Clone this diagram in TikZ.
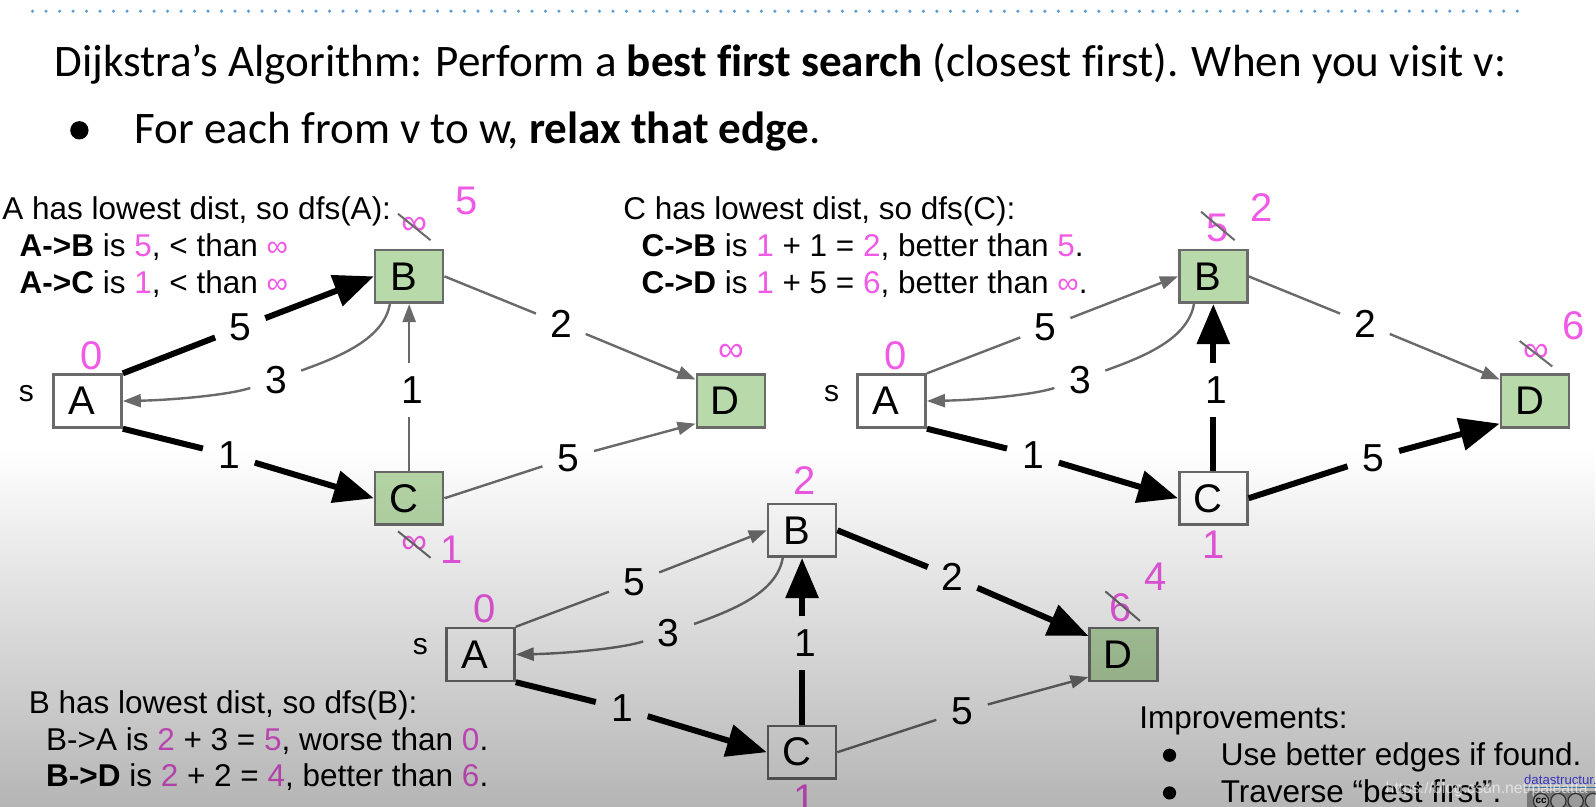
\documentclass[tikz,border=0pt]{standalone}
\usepackage{fontspec}
\setmainfont{Liberation Sans}
\newfontfamily\ttlfont[Ligatures=NoCommon]{Carlito}
\usetikzlibrary{arrows.meta,calc,fadings}
\definecolor{pnk}{HTML}{F05AE6}
\definecolor{grn}{HTML}{B8D9A9}
\definecolor{edgegray}{HTML}{6A6A6A}
\definecolor{dotblue}{HTML}{5B9BD5}
\tikzfading[name=fadedown, top color=transparent!100, bottom color=transparent!71]
\newcommand\fsz[1]{\fontsize{#1}{#1}\selectfont}
\newcommand\pk[1]{\textcolor{pnk}{#1}}
\newcommand\inft{\textcolor{pnk}{\fsz{15}∞}}
\newcommand\boxlet[1]{#1\kern5.5pt}
\tikzset{
  boxnode/.style={draw=edgegray,line width=1.3pt,minimum width=34pt,minimum height=26.4pt,inner sep=0pt,font=\fsz{20}},
  weight/.style={circle,minimum size=26.5pt,inner sep=0pt,font=\fsz{19.5}},
  pinknum/.style={text=pnk,inner sep=0pt,font=\fsz{20}},
  pinksmall/.style={text=pnk,inner sep=0pt,font=\fsz{18}},
  strike/.style={edgegray,line width=1pt},
  slabel/.style={inner sep=0pt,font=\fsz{15}},
  textline/.style={anchor=base west,inner sep=0pt,font=\fsz{15.75}},
  titleline/.style={anchor=base west,inner sep=0pt,font=\ttlfont\fsz{22.55}},
  thinedge/.style={edgegray,line width=1.2pt},
  fatedge/.style={black,line width=3pt},
  thintip/.style={thinedge,-{Triangle[length=9pt,width=6.5pt]}},
  fattip/.style={fatedge,-{Triangle[length=20pt,width=16pt]}},
}
\begin{document}
\begin{tikzpicture}[x=0.509pt,y=-0.509pt]
\useasboundingbox (0,0) rectangle (1568,792.8);
\fill[white] (0,0) rectangle (1568,792.8);
\foreach \i in {0,...,110} \fill[dotblue] (32+\i*13.26,11) circle (1.7);
\node[titleline] (title) at (53,75) {Dijkstra’s Algorithm: Perform a \textbf{best first search} (closest first). When you visit v:};
\fill[black] (78,128) circle (9);
\node[titleline] (sub) at (132,141) {For each from v to w, \textbf{relax that edge}.};

% graph 1
\begin{scope}[shift={(0,0)},name prefix=p-]
  \node[boxnode,fill=white] (A) at (86,394) {\boxlet{A}};
  \node[boxnode,fill=grn] (B) at (402,271.5) {\boxlet{B}};
  \node[boxnode,fill=grn] (C) at (402,489.5) {\boxlet{C}};
  \node[boxnode,fill=grn] (D) at (718,394) {\boxlet{D}};
  \node[weight] (w5) at (236,322) {5};
  \node[weight] (w3) at (271,373) {3};
  \node[weight] (w1v) at (402,383) {\kern3pt 1};
  \node[weight] (w2) at (551,318) {2};
  \node[weight] (w1) at (225,447) {1};
  \node[weight] (w5b) at (558,450) {5};
  \node[slabel] (s) at (26,387) {s};
  \draw[fatedge] (A.north east) -- (w5);
  \draw[fattip] (w5) -- (B.west);
  \draw[fatedge] (A.south east) -- (w1);
  \draw[fattip] (w1) -- (C.west);
  \draw[thinedge] ($(B.south)+(-19,0)$) .. controls +(-6,34) and (335,350) .. (w3);
  \draw[thintip] (w3) .. controls (225,388) and (170,393) .. (A.east);
  \draw[thinedge] (C.north) -- (w1v);
  \draw[thintip] (w1v) -- (B.south);
  \draw[thinedge] (B.east) -- (w2);
  \draw[thintip] (w2) -- ($(D.north west)+(0,6)$);
  \draw[thinedge] (C.east) -- (w5b);
  \draw[thintip] (w5b) -- ($(D.south west)+(0,-5)$);
\end{scope}
% graph 2
\begin{scope}[shift={(790,0)},name prefix=q-]
  \node[boxnode,fill=white] (A) at (86,394) {\boxlet{A}};
  \node[boxnode,fill=grn] (B) at (402,271.5) {\boxlet{B}};
  \node[boxnode,fill=white] (C) at (402,489.5) {\boxlet{C}};
  \node[boxnode,fill=grn] (D) at (718,394) {\boxlet{D}};
  \node[weight] (w5) at (237,322) {5};
  \node[weight] (w3) at (271,373) {3};
  \node[weight] (w1v) at (402,383) {\kern3pt 1};
  \node[weight] (w2) at (551,318) {2};
  \node[weight] (w1) at (225,447) {1};
  \node[weight] (w5b) at (559,450) {5};
  \node[slabel] (s) at (27,387) {s};
  \draw[thinedge] (A.north east) -- (w5);
  \draw[thintip] (w5) -- (B.west);
  \draw[fatedge] (A.south east) -- (w1);
  \draw[fattip] (w1) -- (C.west);
  \draw[thinedge] ($(B.south)+(-19,0)$) .. controls +(-6,34) and (335,350) .. (w3);
  \draw[thintip] (w3) .. controls (225,388) and (170,393) .. (A.east);
  \draw[fatedge] (C.north) -- (w1v);
  \draw[fattip] (w1v) -- (B.south);
  \draw[thinedge] (B.east) -- (w2);
  \draw[thintip] (w2) -- ($(D.north west)+(0,6)$);
  \draw[fatedge] (C.east) -- (w5b);
  \draw[fattip] (w5b) -- ($(D.south west)+(0,-5)$);
\end{scope}
% graph 3
\begin{scope}[shift={(386,249)},name prefix=r-]
  \node[boxnode,fill=white] (A) at (86,394) {\boxlet{A}};
  \node[boxnode,fill=white] (B) at (402,272) {\boxlet{B}};
  \node[boxnode,fill=white] (C) at (402,490) {\boxlet{C}};
  \node[boxnode,fill=grn] (D) at (718,394) {\boxlet{D}};
  \node[weight] (w5) at (237,323) {5};
  \node[weight] (w3) at (271,373) {3};
  \node[weight] (w1v) at (402,383) {\kern3pt 1};
  \node[weight] (w2) at (550,318) {2};
  \node[weight] (w1) at (225,447) {1};
  \node[weight] (w5b) at (559,450) {5};
  \node[slabel] (s) at (27,386) {s};
  \draw[thinedge] (A.north east) -- (w5);
  \draw[thintip] (w5) -- (B.west);
  \draw[fatedge] (A.south east) -- (w1);
  \draw[fattip] (w1) -- (C.west);
  \draw[thinedge] ($(B.south)+(-19,0)$) .. controls +(-6,34) and (335,350) .. (w3);
  \draw[thintip] (w3) .. controls (225,388) and (170,393) .. (A.east);
  \draw[fatedge] (C.north) -- (w1v);
  \draw[fattip] (w1v) -- (B.south);
  \draw[fatedge] (B.east) -- (w2);
  \draw[fattip] (w2) -- ($(D.north west)+(0,9)$);
  \draw[thinedge] (C.east) -- (w5b);
  \draw[thintip] (w5b) -- ($(D.south west)+(0,-5)$);
\end{scope}

% pink distances
\node[pinknum] (n1) at (90,349) {0};
\node[pinksmall] (n2) at (407,222) {∞};
\node[pinknum] (n3) at (458,197) {5};
\node[pinksmall] (n4) at (718,347) {∞};
\node[pinksmall] (n5) at (407,535) {∞};
\node[pinknum] (n6) at (444,540) {1};
\draw[strike] (391,210) -- (423,236);
\draw[strike] (391,522) -- (423,548);
\node[pinknum] (n7) at (880,349) {0};
\node[pinknum] (n8) at (1196,224) {5};
\node[pinknum] (n9) at (1239,204) {2};
\node[pinksmall] (n10) at (1509,347) {∞};
\node[pinknum] (n11) at (1546,320) {6};
\node[pinknum] (n12) at (1192,535) {1};
\draw[strike] (1180,208) -- (1213,236);
\draw[strike] (1493,335) -- (1525,360);
\node[pinknum] (n13) at (476,598) {0};
\node[pinknum] (n14) at (790,472) {2};
\node[pinknum] (n15) at (1101,597) {6};
\node[pinknum] (n16) at (1135,567) {4};
\node[pinknum] (n17) at (790,785) {1};
\draw[strike] (1086,581) -- (1120,610);

% captions
\node[textline] (a1) at (2,216) {A has lowest dist, so dfs(A):};
\node[textline] (a2) at (19,252) {\textbf{A->B} is \pk{5}, < than \inft};
\node[textline] (a3) at (19,288) {\textbf{A->C} is \pk{1}, < than \inft};
\node[textline] (b1) at (612,216) {C has lowest dist, so dfs(C):};
\node[textline] (b2) at (630,252) {\textbf{C->B} is \pk{1} + 1 = \pk{2}, better than \pk{5}.};
\node[textline] (b3) at (630,288) {\textbf{C->D} is \pk{1} + 5 = \pk{6}, better than \inft.};
\node[textline] (c1) at (28,701) {B has lowest dist, so dfs(B):};
\node[textline] (c2) at (45,737) {B->A is \pk{2} + 3 = \pk{5}, worse than \pk{0}.};
\node[textline] (c3) at (45,773) {\textbf{B->D} is \pk{2} + 2 = \pk{4}, better than \pk{6}.};
\node[textline] (d1) at (1119,716) {Improvements:};
\fill[black] (1149,742) circle (6.5);
\node[textline] (d2) at (1199,752) {Use better edges if found.};
\fill[black] (1149,779) circle (6.5);
\node[textline] (d3) at (1199,788) {Traverse “best first”.};

% logo
\fill[gray!70] (1500,777) rectangle (1568,793);
\node[anchor=base west,inner sep=0pt,text=blue!70!white,font=\fsz{6.6}] (ds) at (1497,771) {datastructur.es};
\draw[dotblue,line width=0.6pt] (1497,773.5) -- (1568,773.5);
\foreach \cx in {1514,1531,1548,1565} \draw[black!75,fill=gray!30,line width=0.6pt] (\cx,787) circle (7.5);
\node[inner sep=0pt,font=\fsz{5}\bfseries] (cc) at (1514,787) {cc};

% fade of the lower half
\fill[black,path fading=fadedown] (0,440) rectangle (1568,792.8);

% watermark
\node[anchor=base west,inner sep=0pt,text=white,opacity=0.6,font=\fsz{7.9}] (wm) at (1361,780) {https://blog.csdn.net/paleatta};
\end{tikzpicture}
\end{document}
